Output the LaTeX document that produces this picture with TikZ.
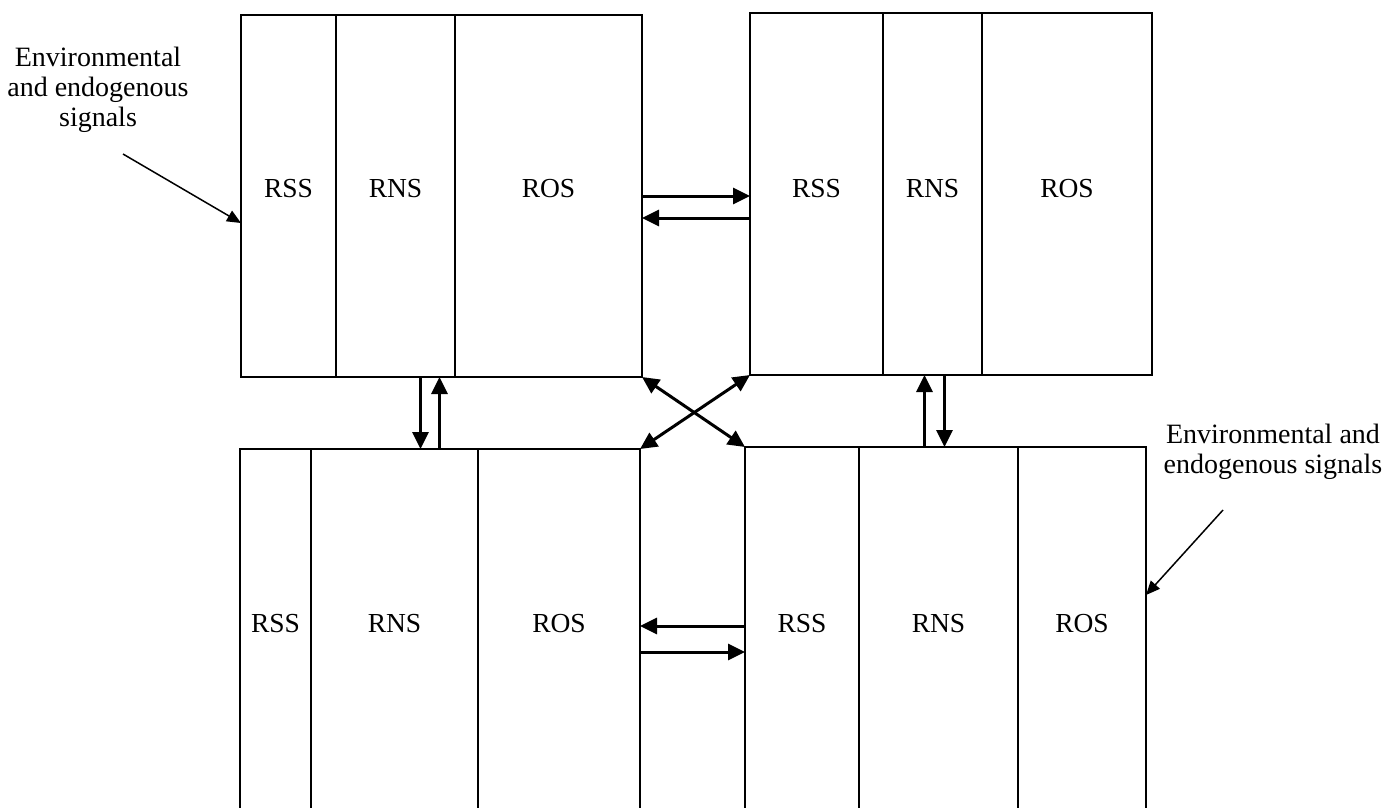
\documentclass[tikz,border=0pt]{standalone}
\usepackage{fontspec}
\setmainfont{Liberation Serif}
\usetikzlibrary{arrows.meta, positioning}

\begin{document}
\begin{tikzpicture}[
    x=1pt, y=-1pt,
    node distance=0pt,
    cell/.style={rectangle, draw, line width=2pt, inner sep=0pt, outer sep=0pt, font=\fontsize{27.5}{30}\selectfont},
    uprow/.style={cell, text height=182pt, text depth=180pt},
    lowrow/.style={cell, text height=183pt, text depth=400pt},
    arrow/.style={-{Triangle[length=17pt, width=16pt]}, line width=3pt},
    twoway/.style={{Triangle[length=17pt, width=16pt]}-{Triangle[length=17pt, width=16pt]}, line width=3pt},
    signal/.style={-{Triangle[length=14pt, width=12pt]}, line width=1.5pt},
    note/.style={align=center, font=\fontsize{28}{30}\selectfont}
]
\useasboundingbox (0,0) rectangle (1385,807);
\clip (0,0) rectangle (1385,807);

% Top left unit
\node[uprow, minimum width=95pt, anchor=north west] (tlrss) at (241,15) {RSS};
\node[uprow, minimum width=119pt, right=of tlrss] (tlrns) {RNS};
\node[uprow, minimum width=187pt, right=of tlrns] (tlros) {ROS};

% Top right unit
\node[uprow, text height=184pt, text depth=178pt, minimum width=133pt, anchor=north west] (trrss) at (750,13) {RSS};
\node[uprow, text height=184pt, text depth=178pt, minimum width=99pt, right=of trrss] (trrns) {RNS};
\node[uprow, text height=184pt, text depth=178pt, minimum width=170pt, right=of trrns] (trros) {ROS};

% Bottom left unit
\node[lowrow, minimum width=71pt, anchor=north west] (blrss) at (240,449) {RSS};
\node[lowrow, minimum width=167pt, right=of blrss] (blrns) {RNS};
\node[lowrow, minimum width=162pt, right=of blrns] (blros) {ROS};

% Bottom right unit
\node[lowrow, text height=185pt, minimum width=114pt, anchor=north west] (brrss) at (745,447) {RSS};
\node[lowrow, text height=185pt, minimum width=159pt, right=of brrss] (brrns) {RNS};
\node[lowrow, text height=185pt, minimum width=128pt, right=of brrns] (brros) {ROS};

% Signals
\node[note] (sigleft) at (98,90) {Environmental\\and endogenous\\signals};
\coordinate (sigltail) at (123,154);
\node[note] (sigright) at (1273,452) {Environmental and\\endogenous signals};
\coordinate (sigrtail) at (1223,510);

% Arrows
\draw[arrow] (tlros.east) -- (tlros.east -| trrss.west);
\draw[arrow] ([yshift=-22pt]tlros.east -| trrss.west) -- ([yshift=-22pt]tlros.east);
\draw[arrow] ([xshift=25pt]tlrns.south) -- ([xshift=25pt]tlrns.south |- blrns.north);
\draw[arrow] ([xshift=44pt]tlrns.south |- blrns.north) -- ([xshift=44pt]tlrns.south);
\draw[arrow] ([xshift=-8pt]trrns.south |- brrns.north) -- ([xshift=-8pt]trrns.south);
\draw[arrow] ([xshift=12pt]trrns.south) -- ([xshift=12pt]trrns.south |- brrns.north);
\draw[twoway] (tlros.south east) -- (brrss.north west);
\draw[twoway] (trrss.south west) -- (blros.north east);
\draw[arrow] ([yshift=6pt]brrss.west |- brrss.base) -- ([yshift=6pt]blros.east |- brrss.base);
\draw[arrow] ([yshift=-20pt]blros.east |- brrss.base) -- ([yshift=-20pt]brrss.west |- brrss.base);
\draw[signal] (sigltail) -- ([yshift=-27pt]tlrss.west);
\draw[signal] (sigrtail) -- ([yshift=-148pt]brros.north east);

\end{tikzpicture}
\end{document}
